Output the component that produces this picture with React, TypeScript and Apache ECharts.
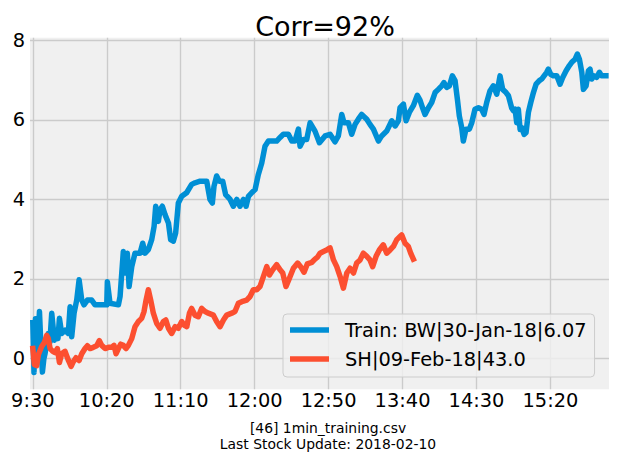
import React, { useEffect, useRef } from "react";
import * as echarts from "echarts";

const chartTitle = "Corr=92%";
const footerLines = ["[46] 1min_training.csv", "Last Stock Update: 2018-02-10"];
const seriesNames = ["Train: BW|30-Jan-18|6.07", "SH|09-Feb-18|43.0"];

const xTickValues = [0, 50, 100, 150, 200, 250, 300, 350];
const xTickLabels = ["9:30", "10:20", "11:10", "12:00", "12:50", "13:40", "14:30", "15:20"];
const yTickValues = [0, 2, 4, 6, 8];

// [minutes since 9:30, value]
const trainSeries: number[][] = [
  [0, 0.9], [0.8, -0.35], [1.8, 1.0], [3, 0.2], [4.5, 1.18], [5.5, 0.3], [6.5, -0.34], [7.5, 0.0],
  [8.3, 0.13], [10.5, 0.63], [11.5, 0.4], [12.8, 1.14], [14.6, 0.46], [16.2, 0.71], [17, 0.5],
  [18, 1.01], [19.5, 0.63], [21.8, 0.71], [24, 0.63], [25.2, 1.3], [26.3, 0.55], [27.9, 1.14],
  [29.7, 1.47], [31.3, 1.98], [33.1, 1.47], [34.6, 1.35], [36.9, 1.47], [39.8, 1.47], [42.1, 1.35],
  [50, 1.35], [50.4, 1.93], [52.2, 1.39], [57.9, 1.35], [59, 1.56], [61.2, 2.69], [62.8, 2.15],
  [63.9, 2.65], [65.1, 1.81], [66.9, 2.31], [69.1, 2.65], [72.5, 2.65], [74.3, 2.9], [75.9, 2.65],
  [78.1, 2.74], [80.4, 2.99], [82, 3.32], [83.1, 3.83], [84.9, 3.45], [86, 3.74], [87.6, 3.83],
  [89.4, 3.62], [91.7, 3.41], [93.2, 2.99], [95, 2.95], [96.6, 3.16], [98.4, 3.91], [100.7, 4.08],
  [104, 4.17], [107.4, 4.38], [109.7, 4.42], [113.1, 4.46], [117.6, 4.46], [119.8, 4.0], [121.4, 3.91],
  [122.5, 4.33], [124.3, 4.59], [126.1, 4.46], [128.4, 4.46], [130.4, 4.12], [133.4, 4.0], [135.6, 3.83],
  [137.9, 4.0], [140.1, 3.83], [142.4, 4.0], [144.2, 3.83], [145.8, 4.08], [148, 4.17], [150.3, 4.25],
  [152.5, 4.63], [154.8, 4.92], [157, 5.34], [159.3, 5.47], [164.9, 5.47], [167.2, 5.56], [169.4, 5.64],
  [172.8, 5.64], [175.1, 5.47], [177.3, 5.47], [179.6, 5.77], [180.7, 5.34], [183, 5.51], [185.2, 5.51],
  [187.5, 5.93], [190.8, 5.72], [193.8, 5.43], [197.6, 5.6], [201, 5.64], [204.3, 5.45], [206.6, 5.6],
  [208.9, 6.14], [210.4, 5.93], [213.4, 5.93], [215.6, 5.64], [217.9, 5.89], [220.1, 6.02], [222.4, 6.14],
  [225.8, 6.02], [228, 5.89], [230.3, 5.77], [233.7, 5.47], [235.9, 5.6], [239.3, 5.72], [242.7, 5.98],
  [245, 5.85], [247.2, 5.98], [248.3, 6.31], [250.6, 6.4], [252.4, 5.98], [254.6, 6.19], [257.3, 6.36],
  [260, 6.62], [261.8, 6.5], [263.6, 6.3], [265.2, 6.14], [267.5, 6.31], [269.7, 6.44], [272, 6.69],
  [274.2, 6.77], [276.5, 6.86], [278, 6.94], [279.9, 6.82], [281.7, 6.86], [283.7, 7.11], [285.5, 6.99],
  [287.1, 6.52], [288.4, 6.1], [290, 5.81], [291.1, 5.47], [292.9, 5.77], [295.2, 5.77], [296.8, 5.93],
  [299, 6.27], [301.3, 6.31], [303.5, 6.27], [305.1, 6.14], [306.9, 6.44], [309.1, 6.73], [311.4, 6.86],
  [313.7, 6.65], [315.9, 7.11], [317.7, 6.77], [320, 6.69], [321.6, 6.61], [323.8, 6.3], [325, 6.23],
  [326.1, 6.27], [327.2, 5.93], [328.3, 6.27], [329.5, 5.76], [330.6, 5.81], [332.2, 5.64], [333.5, 5.68],
  [335.1, 6.19], [336.7, 6.44], [338.5, 6.69], [340.3, 6.9], [342.5, 6.99], [344.1, 7.03], [345.7, 7.11],
  [347.5, 7.2], [348.6, 7.28], [350.2, 7.15], [352, 7.11], [354.3, 7.11], [356.5, 6.9], [358.3, 7.07],
  [360.6, 7.24], [362.8, 7.37], [364.4, 7.45], [366.7, 7.53], [368.2, 7.66], [369.6, 7.53], [371.2, 7.2],
  [372.3, 6.77], [374.1, 6.86], [375.7, 7.24], [376.8, 7.28], [377.9, 7.03], [379.5, 7.11], [381.3, 7.07],
  [383.1, 7.2], [384.6, 7.11], [387.5, 7.11],
];

const shSeries: number[][] = [
  [0, 0.25], [1, -0.15], [2.6, -0.18], [3.8, 0.1], [6, 0.3], [7.8, 0.4], [9.4, 0.58], [10.5, 0.5],
  [11.7, 0.25], [13.5, 0.18], [15, 0.15], [16.6, 0.25], [18, -0.1], [19.5, 0.12], [21.8, 0.18],
  [24.1, -0.05], [25.9, -0.2], [27.4, -0.08], [29.2, 0.02], [31.3, -0.05], [33.1, 0.12], [35.3, 0.25],
  [36.9, 0.32], [38.7, 0.25], [40.9, 0.28], [43.2, 0.32], [45, 0.45], [46.6, 0.33], [48.9, 0.25],
  [51.1, 0.28], [53.4, 0.28], [54.9, 0.33], [56.3, 0.12], [57.9, 0.25], [59.4, 0.36], [61.2, 0.33],
  [63, 0.25], [64.6, 0.33], [66.9, 0.5], [69.1, 0.8], [71.4, 0.93], [73.6, 1.01], [75.2, 1.18],
  [76.6, 1.47], [78.1, 1.73], [79.7, 1.47], [81.5, 1.14], [83.8, 0.88], [86, 0.76], [88.3, 0.93],
  [89.9, 0.97], [91.7, 0.76], [93.9, 0.63], [96.2, 0.8], [98.4, 0.76], [100.7, 0.93], [102.3, 0.84],
  [104.1, 0.8], [105.9, 1.14], [107.4, 1.26], [109.7, 1.09], [111.9, 1.05], [114.2, 1.26], [116.5, 1.18],
  [118.7, 1.14], [122.1, 1.09], [124.3, 0.93], [126.6, 0.8], [128.9, 0.97], [131.1, 1.09], [134.5, 1.14],
  [136.7, 1.18], [139, 1.39], [141.3, 1.43], [144.6, 1.47], [146.9, 1.56], [149.1, 1.73], [151.4, 1.73],
  [153.6, 1.81], [155.9, 2.06], [158.2, 2.31], [160, 2.1], [162.2, 2.23], [164.9, 2.36], [167.2, 2.23],
  [169, 2.15], [171.2, 1.81], [173.5, 2.02], [176.2, 2.27], [179.1, 2.4], [181.1, 2.31], [183.4, 2.17],
  [185.6, 2.38], [188.7, 2.42], [190.8, 2.5], [192.5, 2.55], [194.2, 2.65], [196.5, 2.69], [198.7, 2.73],
  [201, 2.78], [203.3, 2.48], [205.5, 2.31], [207.8, 2.06], [210, 1.77], [212.3, 2.15], [214.5, 2.27],
  [216.8, 2.15], [219, 2.4], [221.3, 2.48], [223.5, 2.65], [225.8, 2.57], [228, 2.48], [229.8, 2.31],
  [232.1, 2.57], [234.3, 2.73], [237, 2.86], [239.3, 2.65], [241.6, 2.73], [243.8, 2.82], [246.1, 2.99],
  [248.3, 3.07], [249.4, 3.11], [251.7, 2.9], [253.9, 2.82], [255.5, 2.65], [257.3, 2.5],
];

const FONT = "DejaVu Sans";

export default function App() {
  const ref = useRef<HTMLDivElement>(null);
  useEffect(() => {
    if (!ref.current) return;
    const chart = echarts.init(ref.current, undefined, { renderer: "svg" });
    const lineStyle = (color: string) => ({ color, width: 5.5, cap: "square", join: "round" });
    chart.setOption({
      animation: false,
      backgroundColor: "#ffffff",
      textStyle: { fontFamily: FONT },
      title: [
        {
          text: chartTitle,
          left: 320,
          top: 21.5,
          textAlign: "center",
          textVerticalAlign: "middle",
          textStyle: { fontFamily: FONT, fontSize: 27, fontWeight: "normal", color: "#000" },
        },
        {
          text: footerLines.join("\n"),
          left: 323,
          top: 415,
          textAlign: "center",
          textStyle: { fontFamily: FONT, fontSize: 13.9, lineHeight: 16, fontWeight: "normal", color: "#000" },
        },
      ],
      grid: { left: 30, right: 8, top: 37.7, bottom: 68.7, show: true, backgroundColor: "#f0f0f0", borderWidth: 0 },
      legend: {
        orient: "vertical",
        left: 283,
        top: 314,
        padding: [5, 8, 7, 7],
        itemWidth: 39,
        itemHeight: 5.5,
        itemGap: 7,
        icon: "rect",
        backgroundColor: "rgba(240,240,240,0.8)",
        borderColor: "#cccccc",
        borderWidth: 1,
        borderRadius: 4,
        textStyle: { fontFamily: FONT, fontSize: 19.4, lineHeight: 22, color: "#000", padding: [0, 0, 0, 11] },
        data: seriesNames,
      },
      xAxis: {
        type: "value",
        min: -1.9,
        max: 389.6,
        axisLine: { show: false },
        axisTick: { show: false, customValues: xTickValues },
        axisLabel: {
          customValues: xTickValues,
          margin: 2,
          fontFamily: FONT,
          fontSize: 19.4,
          color: "#000",
          formatter: (v: number) => {
            const i = xTickValues.indexOf(Math.round(v));
            return i >= 0 ? xTickLabels[i] : "";
          },
        },
        splitLine: { show: true, lineStyle: { color: "#cbcbcb", width: 1.4 } },
      },
      yAxis: {
        type: "value",
        min: -0.775,
        max: 8.07,
        axisLine: { show: false },
        axisTick: { show: false, customValues: yTickValues },
        axisLabel: {
          customValues: yTickValues,
          margin: 5,
          fontFamily: FONT,
          fontSize: 19.4,
          color: "#000",
          formatter: (v: number) => String(Math.round(v)),
        },
        splitLine: { show: true, lineStyle: { color: "#cbcbcb", width: 1.4 } },
      },
      series: [
        {
          name: seriesNames[0],
          type: "line",
          data: trainSeries,
          showSymbol: false,
          color: "#008fd5",
          lineStyle: lineStyle("#008fd5"),
          z: 3,
        },
        {
          name: seriesNames[1],
          type: "line",
          data: shSeries,
          showSymbol: false,
          color: "#fc4f30",
          lineStyle: lineStyle("#fc4f30"),
          z: 4,
        },
      ],
    });
    return () => chart.dispose();
  }, []);
  return <div ref={ref} style={{ width: 617, height: 458, position: "absolute", left: 0, top: 0 }} />;
}
